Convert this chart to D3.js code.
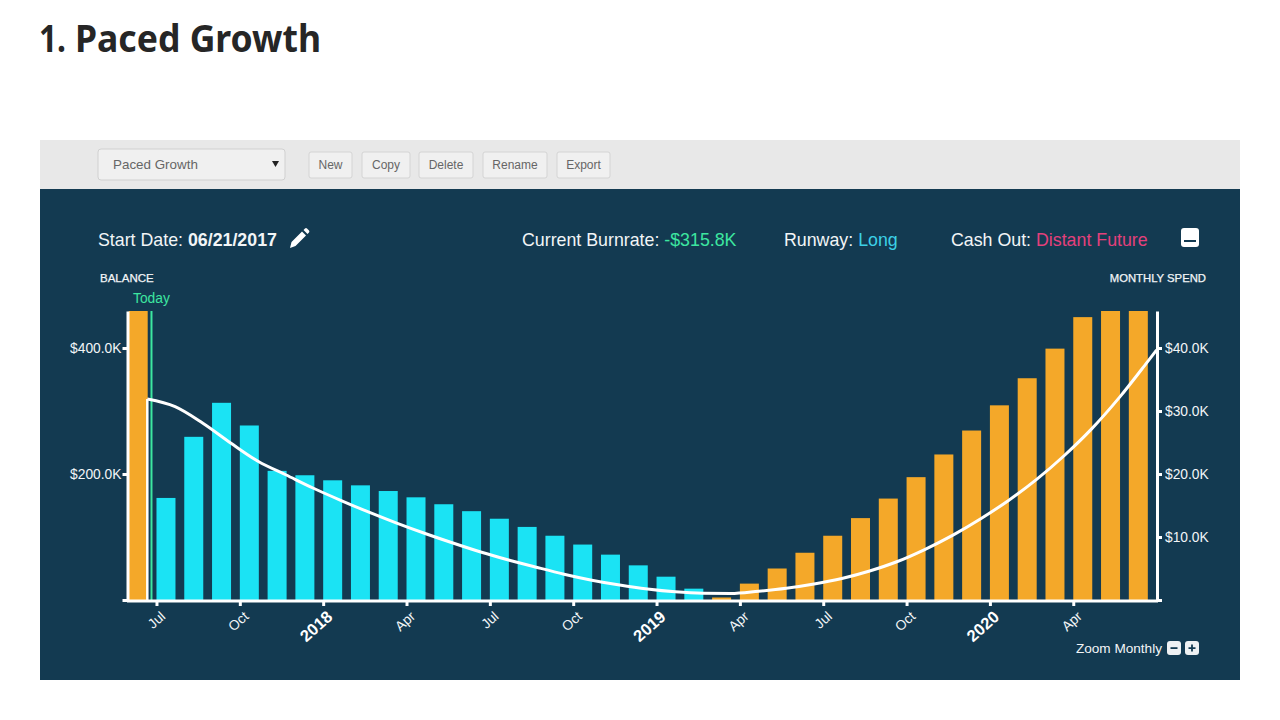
<!DOCTYPE html>
<html>
<head>
<meta charset="utf-8">
<title>Paced Growth</title>
<script src="https://cdn.jsdelivr.net/npm/d3@7/dist/d3.min.js"></script>
<style>
  html, body { margin: 0; padding: 0; background: #fff; }
  svg { display: block; }
  text { font-family: "Liberation Sans", Arial, sans-serif; }
</style>
</head>
<body>
<svg id="page" width="1280" height="720"></svg>
<script>
// Monthly spend in $K, one bar per month from Jun 2017 to Jun 2020.
const barMonths = d3.range(-1, 36);
const monthlySpend = [
  50.0, 16.2, 25.9, 31.3, 27.7, 20.5, 19.8, 19.0, 18.2, 17.3, 16.3, 15.2, 14.1,
  12.9, 11.6, 10.2, 8.8, 7.2, 5.5, 3.7, 1.8, 0.4, 2.6, 5.0, 7.5, 10.2, 13.0,
  16.1, 19.5, 23.1, 26.9, 30.9, 35.2, 39.9, 44.9, 50.2, 55.7
];
// Bars before this index, and from the break-even month on, are drawn as income.
const spendKinds = barMonths.map(m => (m < 0 || m >= 20) ? "in" : "out");

// Cash balance in $K, sampled monthly from the start date; months counted from Jul 2017.
const balanceMonths = [...d3.range(37).map(k => k - 0.33), 36];
const balance = [
  319, 306.8, 280.5, 249.2, 219.8, 198.4, 177, 157.5, 139, 121.7, 105.6, 90.5,
  76.2, 63.5, 52, 41, 31.5, 23.8, 17.5, 13, 10.6, 10.2, 13.8, 18.6, 25.4,
  34.1, 46, 61.1, 80.5, 103, 129, 158, 191, 229, 272, 322, 378, 396.8
];

const xTickMonths = d3.range(0, 36, 3);
const xTickLabels = ["Jul", "Oct", "2018", "Apr", "Jul", "Oct", "2019", "Apr", "Jul", "Oct", "2020", "Apr"];
const balanceTicks = [0, 200, 400];
const spendTicks = [0, 10, 20, 30, 40];
const todayMonth = -0.18;
const buttonLabels = ["New", "Copy", "Delete", "Rename", "Export"];
const buttonEdges = [[309, 352], [362, 410], [419, 473], [483, 547], [557, 610]];

const colors = {
  navy: "#133a51", toolbar: "#e8e8e8", cyan: "#1be3f4", orange: "#f4a829",
  green: "#3de6a0", blue: "#3cd0e6", pink: "#e4407c", text: "#f2f5f7"
};

const svg = d3.select("#page");

// Page heading
const heading = svg.append("text").attr("y", 52)
  .style("font-family", '"Noto Sans", sans-serif')
  .style("font-weight", 700).style("font-size", "37px").style("fill", "#262626");
heading.append("tspan").attr("x", 39).attr("textLength", 27).attr("lengthAdjust", "spacingAndGlyphs").text("1.");
heading.append("tspan").attr("x", 75).attr("textLength", 246).attr("lengthAdjust", "spacingAndGlyphs").text("Paced Growth");

// Toolbar with the scenario picker and its buttons
svg.append("rect").attr("x", 40).attr("y", 140).attr("width", 1200).attr("height", 50).attr("fill", colors.toolbar);
svg.append("rect").attr("x", 40).attr("y", 189).attr("width", 1200).attr("height", 491).attr("fill", colors.navy);

svg.append("rect").attr("x", 98).attr("y", 149).attr("width", 187).attr("height", 31).attr("rx", 3)
  .attr("fill", "#f0f0f0").attr("stroke", "#d0d0d0");
svg.append("text").attr("x", 113).attr("y", 169).style("font-size", "13.4px").style("fill", "#666").text("Paced Growth");
svg.append("path").attr("d", "M272,161h7l-3.5,6z").attr("fill", "#222");

const buttons = svg.selectAll("g.button").data(buttonLabels).join("g").attr("class", "button");
buttons.append("rect")
  .attr("x", (d, i) => buttonEdges[i][0]).attr("y", 152)
  .attr("width", (d, i) => buttonEdges[i][1] - buttonEdges[i][0]).attr("height", 26).attr("rx", 2)
  .attr("fill", "#f0f0f0").attr("stroke", "#d4d4d4");
buttons.append("text")
  .attr("x", (d, i) => (buttonEdges[i][0] + buttonEdges[i][1]) / 2).attr("y", 169)
  .attr("text-anchor", "middle").style("font-size", "12px").style("fill", "#666").text(d => d);

// Summary line above the chart
function summary(x, parts) {
  const t = svg.append("text").attr("x", x).attr("y", 245.5).style("font-size", "17.8px");
  parts.forEach(p => t.append("tspan").style("fill", p.fill || colors.text)
    .style("font-weight", p.bold ? 700 : 400).text(p.text));
}
summary(98, [{ text: "Start Date: " }, { text: "06/21/2017", bold: true }]);
summary(522, [{ text: "Current Burnrate: " }, { text: "-$315.8K", fill: colors.green }]);
summary(784, [{ text: "Runway: " }, { text: "Long", fill: colors.blue }]);
summary(951, [{ text: "Cash Out: " }, { text: "Distant Future", fill: colors.pink }]);

// Edit pencil next to the start date
svg.append("path")
  .attr("d", "M290,248l1.5,-6l10.5,-10.5l4,4l-10.5,10.5z M303.5,230l1.5,-1.5q1,-.8 2,0l2,2q.8,1 0,2l-1.5,1.5z")
  .attr("fill", "#fff");

// Collapse button
svg.append("rect").attr("x", 1181).attr("y", 228).attr("width", 18).attr("height", 19).attr("rx", 3).attr("fill", "#fff");
svg.append("rect").attr("x", 1184).attr("y", 240).attr("width", 12).attr("height", 2).attr("fill", colors.navy);

// Axis titles
svg.append("text").attr("x", 100).attr("y", 282).style("font-size", "11.5px").style("fill", colors.text)
  .style("stroke", colors.text).style("stroke-width", 0.25).text("BALANCE");
svg.append("text").attr("x", 1206).attr("y", 282).attr("text-anchor", "end").style("font-size", "11.3px").style("fill", colors.text)
  .style("stroke", colors.text).style("stroke-width", 0.25).text("MONTHLY SPEND");

// Scales: months are evenly spaced, the two y axes share a baseline
const plotTop = 311, plotBottom = 600;
const x = d3.scaleLinear().domain([-1, 36]).range([128.7, 1156.6]);
const yBalance = d3.scaleLinear().domain([0, (plotBottom - plotTop) / 0.63]).range([plotBottom, plotTop]);
const ySpend = d3.scaleLinear().domain([0, (plotBottom - plotTop) / 6.3]).range([plotBottom, plotTop]);
const barWidth = 19;

svg.append("clipPath").attr("id", "plot-clip").append("rect")
  .attr("x", 120).attr("y", plotTop).attr("width", 1040).attr("height", plotBottom - plotTop);

// Spend bars
svg.append("g").attr("clip-path", "url(#plot-clip)")
  .selectAll("rect").data(barMonths).join("rect")
  .attr("x", d => x(d)).attr("width", barWidth)
  .attr("y", (d, i) => ySpend(monthlySpend[i]))
  .attr("height", (d, i) => plotBottom - ySpend(monthlySpend[i]))
  .attr("fill", (d, i) => spendKinds[i] === "in" ? colors.orange : colors.cyan);

// Today marker
svg.append("line").attr("x1", x(todayMonth)).attr("x2", x(todayMonth))
  .attr("y1", plotTop).attr("y2", plotBottom)
  .attr("stroke", colors.green).attr("stroke-width", 2);
svg.append("text").attr("x", 133).attr("y", 302.5).style("font-size", "13.8px").style("fill", colors.green).text("Today");

// Balance curve, with a drop to the baseline at the start date
const balanceLine = d3.line()
  .x((d, i) => x(balanceMonths[i]))
  .y(d => yBalance(d))
  .curve(d3.curveMonotoneX);
svg.append("path").datum(balance).attr("d", balanceLine)
  .attr("fill", "none").attr("stroke", "#fff").attr("stroke-width", 3);
svg.append("line")
  .attr("x1", x(balanceMonths[0])).attr("x2", x(balanceMonths[0]))
  .attr("y1", yBalance(balance[0])).attr("y2", plotBottom)
  .attr("stroke", "#fff").attr("stroke-width", 2.5);

// Axes
const kFormat = d => d === 0 ? "" : "$" + d3.format(".1f")(d) + "K";
function styleAxis(g) {
  g.selectAll(".domain").attr("stroke", "#fff").attr("stroke-width", 3);
  g.selectAll(".tick line").attr("stroke", "#fff").attr("stroke-width", 3);
  g.selectAll(".tick text").style("font-size", "13.8px").style("fill", colors.text)
    .style("font-family", '"Liberation Sans", Arial, sans-serif');
}

svg.append("g").attr("transform", "translate(127.5,0)")
  .call(d3.axisLeft(yBalance).tickValues(balanceTicks).tickFormat(kFormat).tickSize(5).tickSizeOuter(0).tickPadding(1))
  .call(styleAxis);

svg.append("g").attr("transform", "translate(1157,0)")
  .call(d3.axisRight(ySpend).tickValues(spendTicks).tickFormat(kFormat).tickSize(5).tickSizeOuter(0).tickPadding(3))
  .call(styleAxis);

const xAxis = svg.append("g").attr("transform", "translate(0,601)")
  .call(d3.axisBottom(x).tickValues(xTickMonths).tickFormat((d, i) => xTickLabels[i]).tickSize(5).tickSizeOuter(0))
  .call(styleAxis);
xAxis.select(".domain").attr("d", `M127,0H1158`);
xAxis.selectAll(".tick text")
  .attr("x", 0).attr("y", 0).attr("dy", "0.35em").attr("text-anchor", "end")
  .attr("transform", "translate(6,13) rotate(-42)")
  .each(function (d, i) {
    if (/^\d+$/.test(xTickLabels[i])) {
      d3.select(this).style("font-size", "16.5px").style("font-weight", 700).style("fill", "#fff");
    }
  });

// Zoom controls
svg.append("text").attr("x", 1162).attr("y", 653).attr("text-anchor", "end")
  .style("font-size", "13.6px").style("fill", colors.text).text("Zoom Monthly");
svg.append("rect").attr("x", 1167).attr("y", 641).attr("width", 14).attr("height", 14).attr("rx", 3).attr("fill", "#eef1f3");
svg.append("rect").attr("x", 1170.5).attr("y", 647.2).attr("width", 7).attr("height", 1.8).attr("fill", colors.navy);
svg.append("rect").attr("x", 1185).attr("y", 641).attr("width", 14).attr("height", 14).attr("rx", 3).attr("fill", "#eef1f3");
svg.append("path").attr("d", "M1188.5,647.2h7v1.8h-7z M1191.1,644.6h1.8v7h-1.8z").attr("fill", colors.navy);
</script>
</body>
</html>
